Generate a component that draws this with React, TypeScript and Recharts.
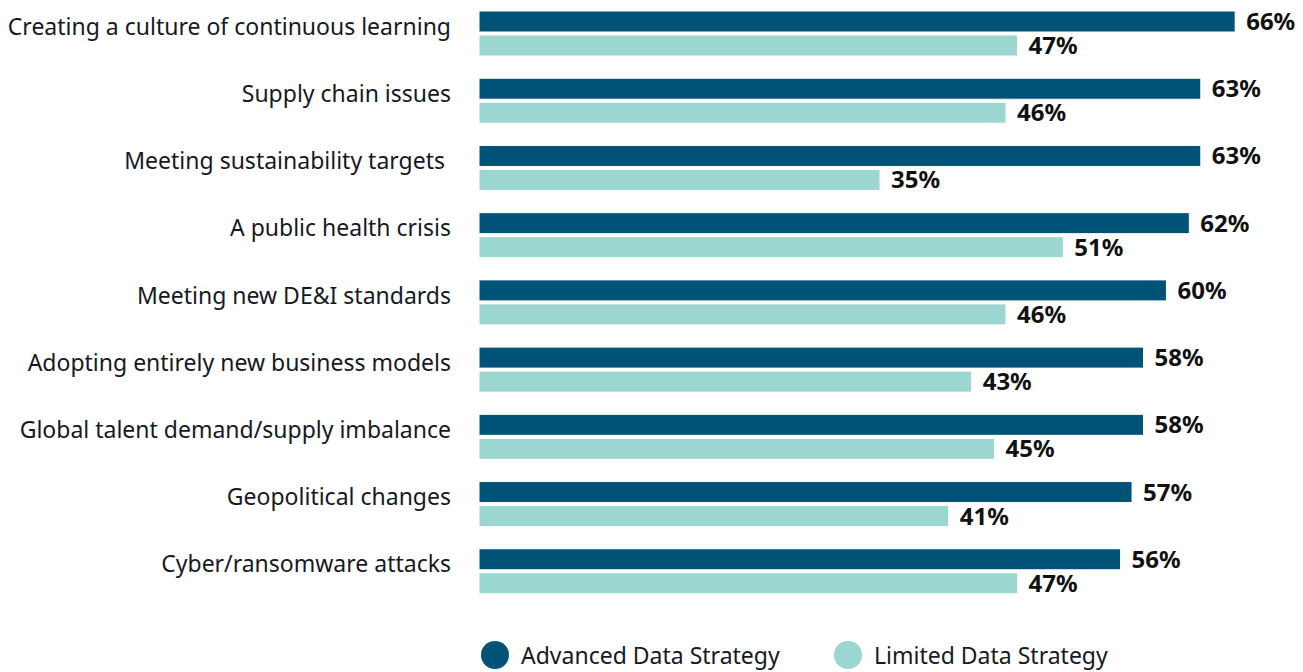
import { BarChart, Bar, XAxis, YAxis, LabelList, Legend } from 'recharts'

const categories = [
  'Creating a culture of continuous learning',
  'Supply chain issues',
  'Meeting sustainability targets ',
  'A public health crisis',
  'Meeting new DE&I standards',
  'Adopting entirely new business models',
  'Global talent demand/supply imbalance',
  'Geopolitical changes',
  'Cyber/ransomware attacks',
]
const advanced = [66, 63, 63, 62, 60, 58, 58, 57, 56]
const limited = [47, 46, 35, 51, 46, 43, 45, 41, 47]

const DARK = '#005276'
const LIGHT = '#9bd6d1'
const FONT = '"Noto Sans", sans-serif'

const data = categories.map((name, i) => ({
  name,
  advanced: advanced[i],
  limited: limited[i],
}))

const CategoryTick = ({ x, y, payload }: any) => (
  <text
    x={x}
    y={y}
    dy={1}
    textAnchor="end"
    fill="#16191f"
    fontSize={23}
    fontFamily={FONT}
    style={{ whiteSpace: 'pre' }}
  >
    {payload.value}
  </text>
)

const LegendContent = () => (
  <div style={{ position: 'relative', height: 28, fontFamily: FONT, fontSize: 23, color: '#16191f' }}>
    {[
      { label: 'Advanced Data Strategy', color: DARK, left: 481 },
      { label: 'Limited Data Strategy', color: LIGHT, left: 834 },
    ].map((it) => (
      <div key={it.label} style={{ position: 'absolute', left: it.left, top: 0, display: 'flex', alignItems: 'center', lineHeight: '28px' }}>
        <span style={{ width: 28, height: 28, borderRadius: 14, background: it.color, display: 'inline-block', flex: 'none' }} />
        <span style={{ marginLeft: 12, whiteSpace: 'nowrap' }}>{it.label}</span>
      </div>
    ))}
  </div>
)

const labelStyle = { fontFamily: FONT, fontSize: 24, fontWeight: 700, fill: '#111' }

export default function App() {
  return (
    <div style={{ width: 1303, height: 672, background: '#fff', position: 'absolute', left: 0, top: 0, overflow: 'hidden' }}>
      <BarChart
        width={1303}
        height={672}
        data={data}
        layout="vertical"
        margin={{ top: 0, right: 22, bottom: 67, left: 0 }}
        barSize={21}
        barGap={3}
      >
        <XAxis type="number" domain={[0, 70]} hide />
        <YAxis
          type="category"
          dataKey="name"
          width={479}
          axisLine={false}
          tickLine={false}
          tickSize={0}
          tickMargin={28}
          interval={0}
          tick={<CategoryTick />}
        />
        <Legend
          layout="horizontal"
          verticalAlign="middle"
          align="center"
          content={<LegendContent />}
          wrapperStyle={{ top: 641, left: 0, width: 1303 }}
        />
        <Bar dataKey="advanced" fill={DARK} stroke="#fff" strokeWidth={1} isAnimationActive={false}>
          <LabelList
            dataKey="advanced"
            position="right"
            offset={11}
            formatter={(v: any) => `${v}%`}
            style={labelStyle}
          />
        </Bar>
        <Bar dataKey="limited" fill={LIGHT} stroke="#fff" strokeWidth={1} isAnimationActive={false}>
          <LabelList
            dataKey="limited"
            position="right"
            offset={11}
            formatter={(v: any) => `${v}%`}
            style={labelStyle}
          />
        </Bar>
      </BarChart>
    </div>
  )
}
